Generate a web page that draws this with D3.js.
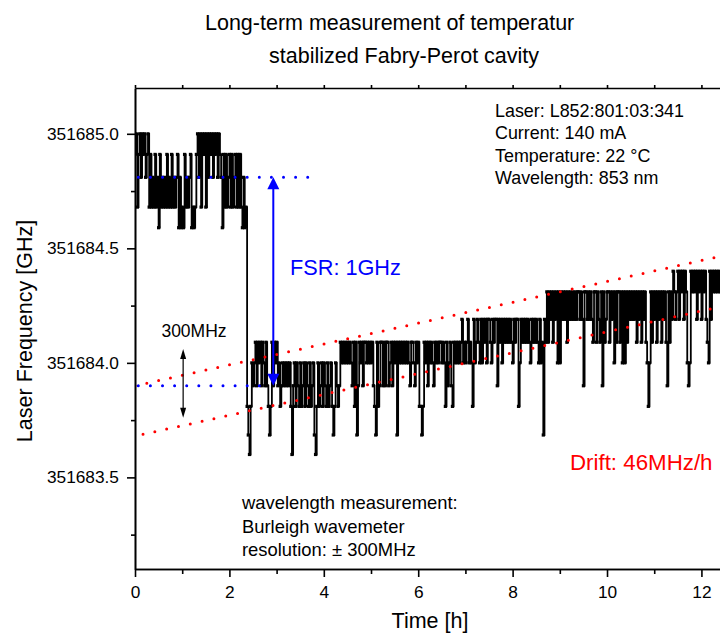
<!DOCTYPE html>
<html><head><meta charset="utf-8">
<script src="https://cdn.jsdelivr.net/npm/d3@7"></script>
<style>
body{margin:0;background:#fff}
text{font-family:"Liberation Sans",Arial,Helvetica,sans-serif;fill:#000}
</style>
</head><body><svg id="chart" width="720" height="635"></svg>
<script>
// ---------- data ----------
const titleLines = ["Long-term measurement of temperatur", "stabilized Fabry-Perot cavity"];
const xLabel = "Time [h]";
const yLabel = "Laser Frequency [GHz]";
const xMajorTicks = [0, 2, 4, 6, 8, 10, 12];
const xMinorTicks = [1, 3, 5, 7, 9, 11];
const xTopTicks = [0,1,2,3,4,5,6,7,8,9,10,11,12];
const yMajorTicks = [351683.5, 351684.0, 351684.5, 351685.0];
const yMinorTicks = [351683.25, 351683.75, 351684.25, 351684.75];
// wavemeter readout levels (GHz), coded a..n
const levelCodes = "abcdefghijklmn";
const levelValues = [351683.60, 351683.685, 351683.81, 351683.90, 351684.00, 351684.09, 351684.19,
                     351684.31, 351684.40, 351684.59, 351684.68, 351684.81, 351684.91, 351685.00];
const sampleStepHours = 0.025;
// successive readings, one code per sample
const readings = [
  "mnkmnlnmnlmn",
  "kmklkmkljmklklkmklkmklklmjljkjmklklmjkjk",
  "mnlnknmnknlnmnlnmnlnml",
  "jmkmklmkmklmkmkmkjljk",
  "cbac",
  "edefdfefdfedfdcbcfdfefdecdededed",
  "ecadecedcecdecedcecdebacecdecedcecdecbced",
  "cdfefefefefedfcfbdfefdffefefefdcbfcdffdfdffdefdfefbfefefefefedffedfefc",
  "cbcfefdfefedfefeffefecfdefdcfefefefgefefgefecgef",
  "gfegegfgeggfegfggdgfgegfgfgfgfegfggcegfgfgfgfegfgfgfegefbgfhfhghfhghehehg",
  "hghfhghghghghhghgdhhghghgfhhfhgfhdhfghhfhghehfhhfhehehfhghghghfhghfhghfecehfhghfhghfhghfdhfhg",
  "ihghigihigihedeihihigihigihigfeigihihihih"
];
// FSR markers (blue) and drift lines (red)
const fsrLevels = [351684.81, 351683.90];
const fsrLineEnds = [3.7, 2.8];
const fsrArrowTime = 2.93;
const driftUpper = [[0, 351683.90], [12.4, 351684.465]];
const driftLower = [[0.17, 351683.688], [12.4, 351684.245]];
const resolutionArrow = {t: 1.02, from: 351684.06, to: 351683.76};
const infoLines = ["Laser: L852:801:03:341", "Current: 140 mA", "Temperature: 22 \u00B0C", "Wavelength: 853 nm"];
const noteLines = ["wavelength measurement:", "Burleigh wavemeter", "resolution: \u00B1 300MHz"];

// ---------- build series ----------
const series = readings.join("").split("").map((c, i) => ({
  t: i * sampleStepHours,
  v: levelValues[levelCodes.indexOf(c)]
}));

// ---------- layout ----------
const svg = d3.select("#chart");
const L = 135, R = 720.3, T = 88, B = 569;
const x = d3.scaleLinear().domain([0, 12.4]).range([L, R]);
const y = d3.scaleLinear().domain([351683.1, 351685.2]).range([B, T]);
const FONT = '"Liberation Sans",Arial,sans-serif';

svg.append("defs").append("clipPath").attr("id", "plotclip")
  .append("rect").attr("x", L).attr("y", T).attr("width", 720 - L).attr("height", B - T);

// title
svg.append("text").attr("x", 205).attr("y", 30).attr("font-size", 21.5).text(titleLines[0]);
svg.append("text").attr("x", 269).attr("y", 63).attr("font-size", 21.5).text(titleLines[1]);

// data
const plot = svg.append("g").attr("clip-path", "url(#plotclip)");
plot.append("path").datum(series)
  .attr("fill", "none").attr("stroke", "#000").attr("stroke-width", 1.8)
  .attr("d", d3.line().curve(d3.curveStepAfter).x(d => x(d.t)).y(d => y(d.v)));
plot.append("g").selectAll("rect").data(series).join("rect")
  .attr("x", d => x(d.t) - 1.6).attr("y", d => y(d.v) - 1.6)
  .attr("width", 3.2).attr("height", 3.2).attr("fill", "#000");

// blue FSR dotted lines
fsrLevels.forEach((lv, k) => {
  plot.append("line")
    .attr("x1", x(0.07)).attr("x2", x(fsrLineEnds[k]))
    .attr("y1", y(lv)).attr("y2", y(lv))
    .attr("stroke", "#0000ff").attr("stroke-width", 3)
    .attr("stroke-linecap", "round").attr("stroke-dasharray", "0 12.1");
});
// red drift dotted lines
[driftUpper, driftLower].forEach(ln => {
  plot.append("line")
    .attr("x1", x(ln[0][0])).attr("y1", y(ln[0][1]))
    .attr("x2", x(ln[1][0])).attr("y2", y(ln[1][1]))
    .attr("stroke", "#ff0000").attr("stroke-width", 3)
    .attr("stroke-linecap", "round").attr("stroke-dasharray", "0 12.1");
});

// blue double arrow
const ax = x(fsrArrowTime), ay1 = y(fsrLevels[0]), ay2 = y(fsrLevels[1]);
svg.append("line").attr("x1", ax).attr("x2", ax).attr("y1", ay1 + 10).attr("y2", ay2 - 10)
  .attr("stroke", "#0000ff").attr("stroke-width", 2);
svg.append("path").attr("fill", "#0000ff")
  .attr("d", `M${ax},${ay1} L${ax - 6},${ay1 + 12} L${ax + 6},${ay1 + 12} Z`);
svg.append("path").attr("fill", "#0000ff")
  .attr("d", `M${ax},${ay2} L${ax - 6},${ay2 - 12} L${ax + 6},${ay2 - 12} Z`);
svg.append("text").attr("x", 290).attr("y", 275).attr("font-size", 21.7)
  .style("fill", "#0000ff").text("FSR: 1GHz");

// black resolution arrow
const bx = x(resolutionArrow.t), by1 = y(resolutionArrow.from), by2 = y(resolutionArrow.to);
svg.append("line").attr("x1", bx).attr("x2", bx).attr("y1", by1 + 6).attr("y2", by2 - 6)
  .attr("stroke", "#000").attr("stroke-width", 1.2);
svg.append("path").attr("fill", "#000")
  .attr("d", `M${bx},${by1} L${bx - 3},${by1 + 10} L${bx + 3},${by1 + 10} Z`);
svg.append("path").attr("fill", "#000")
  .attr("d", `M${bx},${by2} L${bx - 3},${by2 - 10} L${bx + 3},${by2 - 10} Z`);
svg.append("text").attr("x", 194).attr("y", 337).attr("font-size", 17.5)
  .attr("text-anchor", "middle").text("300MHz");

// red drift label
svg.append("text").attr("x", 570).attr("y", 470).attr("font-size", 22.3)
  .style("fill", "#ff0000").text("Drift: 46MHz/h");

// info text
infoLines.forEach((s, k) => svg.append("text").attr("x", 495).attr("y", 117 + k * 22.3)
  .attr("font-size", 17.9).text(s));
noteLines.forEach((s, k) => svg.append("text").attr("x", 242).attr("y", 509 + k * 23.5)
  .attr("font-size", 18.4).text(s));

// axes
function styleAxis(g) {
  g.selectAll("path.domain").attr("stroke", "#000").attr("stroke-width", 1.6);
  g.selectAll(".tick line").attr("stroke", "#000").attr("stroke-width", 1.6);
  g.selectAll("text").attr("font-family", FONT).style("fill", "#000");
}
// left
svg.append("g").attr("transform", `translate(${L},0)`)
  .call(d3.axisLeft(y).tickValues(yMinorTicks).tickSize(4).tickSizeOuter(0).tickFormat(""))
  .call(styleAxis);
svg.append("g").attr("transform", `translate(${L},0)`)
  .call(d3.axisLeft(y).tickValues(yMajorTicks).tickSize(8).tickSizeOuter(0).tickPadding(8)
    .tickFormat(d3.format(".1f")))
  .call(styleAxis)
  .call(g => g.selectAll("text").attr("font-size", 17.3));
// bottom
svg.append("g").attr("transform", `translate(0,${B})`)
  .call(d3.axisBottom(x).tickValues(xMinorTicks).tickSize(5).tickSizeOuter(0).tickFormat(""))
  .call(styleAxis);
svg.append("g").attr("transform", `translate(0,${B})`)
  .call(d3.axisBottom(x).tickValues(xMajorTicks).tickSize(8).tickSizeOuter(0).tickPadding(9)
    .tickFormat(d3.format("d")))
  .call(styleAxis)
  .call(g => g.selectAll("text").attr("font-size", 17.3));
// top
svg.append("g").attr("transform", `translate(0,${T})`)
  .call(d3.axisTop(x).tickValues(xTopTicks).tickSize(3).tickSizeOuter(0).tickFormat(""))
  .call(styleAxis);

// axis titles
svg.append("text").attr("x", 430).attr("y", 628).attr("text-anchor", "middle")
  .attr("font-size", 21.5).text(xLabel);
svg.append("text").attr("transform", "translate(32,331) rotate(-90)").attr("text-anchor", "middle")
  .attr("font-size", 21.5).text(yLabel);
</script>
</body></html>
